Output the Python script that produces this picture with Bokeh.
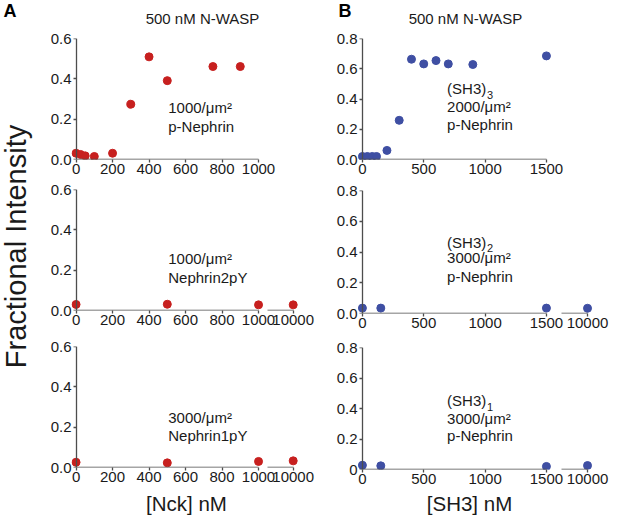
import math
from bokeh.plotting import figure
from bokeh.models import (Range1d, LinearAxis, FixedTicker, Label,
                          PrintfTickFormatter, ColumnDataSource)
from bokeh.layouts import row, column
from bokeh.embed import file_html
from bokeh.resources import INLINE

# ---------------- data ----------------
# Panel A: [Nck] nM vs fractional intensity
nck_top_x = [0, 25, 50, 100, 200, 300, 400, 500, 750, 900]
nck_top_y = [0.031, 0.025, 0.018, 0.015, 0.031, 0.274, 0.509, 0.391, 0.461, 0.461]
nck_mid_x = [0, 500, 1000, 10000]
nck_mid_y = [0.030, 0.031, 0.028, 0.028]
nck_bot_x = [0, 500, 1000, 10000]
nck_bot_y = [0.026, 0.023, 0.030, 0.033]

# Panel B: [SH3] nM vs fractional intensity
sh3_top_x = [0, 40, 80, 115, 200, 300, 400, 500, 600, 700, 900, 1500]
sh3_top_y = [0.02, 0.02, 0.02, 0.02, 0.060, 0.259, 0.663, 0.632, 0.654, 0.632, 0.628, 0.685]
sh3_mid_x = [0, 150, 1500, 10000]
sh3_mid_y = [0.035, 0.035, 0.035, 0.034]
sh3_bot_x = [0, 150, 1500, 10000]
sh3_bot_y = [0.028, 0.024, 0.020, 0.026]

# tick labels
nck_xticks = [0, 200, 400, 600, 800, 1000]
sh3_xticks = [0, 500, 1000, 1500]
break_tick = 10000
nck_yticks = [0, 0.2, 0.4, 0.6]
sh3_yticks = [0, 0.2, 0.4, 0.6, 0.8]

titles = ["500 nM N-WASP", "500 nM N-WASP"]
panel_letters = ["A", "B"]
y_label = "Fractional Intensity"
x_labels = ["[Nck] nM", "[SH3] nM"]

# ---------------- style ----------------
FONT = "Liberation Sans"
RED = "#c7201f"
BLUE = "#3f4fa3"
AXIS = "#4d4d4d"
TXT = "#1a1a1a"
TICK_FS = "15px"
NOTE_FS = "15px"


def to_disp(vals, main_max, stub_span, stub_disp):
    """Broken axis: values above main_max go onto the short stub segment."""
    lo_v, hi_v = stub_span
    lo_d, hi_d = stub_disp
    out = []
    for v in vals:
        if v <= main_max:
            out.append(v)
        else:
            out.append(lo_d + (v - lo_v) * (hi_d - lo_d) / (hi_v - lo_v))
    return out


def style_axis(ax, standoff, line=True, ticks=True, labels=True):
    ax.axis_line_color = AXIS if line else None
    ax.axis_line_width = 1.3
    ax.major_tick_line_color = AXIS if ticks else None
    ax.major_tick_line_width = 1.3
    ax.major_tick_out = 3 if ticks else 0
    ax.major_tick_in = 0
    ax.minor_tick_out = 0
    ax.minor_tick_in = 0
    ax.major_label_text_font = FONT
    ax.major_label_text_font_size = TICK_FS
    ax.major_label_text_color = TXT if labels else None
    ax.major_label_standoff = standoff


def line_axis(p, side, bounds, loc, tick_list=()):
    ax = LinearAxis(ticker=FixedTicker(ticks=list(tick_list)), bounds=bounds,
                    fixed_location=loc)
    style_axis(ax, 0, line=True, ticks=True, labels=False)
    p.add_layout(ax, side)


def panel(xs, ys, color, width, height, borders, xr, yr, xticks, yticks,
          main_max, stub=None, y_over=None, notes=()):
    bl, br, bt, bb = borders
    p = figure(width=width, height=height,
               x_range=Range1d(*xr), y_range=Range1d(*yr),
               output_backend="svg", toolbar_location=None,
               x_axis_type=None, y_axis_type=None,
               min_border_left=bl, min_border_right=br,
               min_border_top=bt, min_border_bottom=bb)
    p.outline_line_color = None

    # x axis: tick marks + labels (line drawn by the segment axes below)
    ticks = list(xticks)
    overrides = {}
    if stub is not None:
        span, disp = stub
        tick_d = to_disp([break_tick], main_max, span, disp)[0]
        ticks.append(tick_d)
        overrides[tick_d] = str(break_tick)
        dx = to_disp(xs, main_max, span, disp)
    else:
        dx = list(xs)
    xa = LinearAxis(ticker=FixedTicker(ticks=ticks),
                    major_label_overrides=overrides)
    style_axis(xa, 1, line=False, ticks=True, labels=True)
    p.add_layout(xa, "below")
    line_axis(p, "below", (0, main_max), yr[0])
    if stub is not None:
        line_axis(p, "below", stub[1], yr[0])

    # y axis: line and ticks at x = 0, labels at the frame edge
    line_axis(p, "left", "auto", 0, yticks)
    yl = LinearAxis(ticker=FixedTicker(ticks=yticks),
                    formatter=PrintfTickFormatter(format="%.1f"))
    if y_over:
        yl.major_label_overrides = y_over
    style_axis(yl, 0, line=False, ticks=False, labels=True)
    p.add_layout(yl, "left")

    src = ColumnDataSource(dict(x=dx, y=ys))
    p.scatter("x", "y", source=src, size=8, fill_color=color, line_color=color)

    for (tx, ty, txt, fs, yoff) in notes:
        p.add_layout(Label(x=tx, y=ty, text=txt, text_font=FONT,
                           text_font_size=fs, text_color=TXT,
                           text_align="left", text_baseline="middle",
                           y_offset=yoff))
    return p


def canvas(w, h, x0, y0):
    c = figure(width=w, height=h, x_range=Range1d(x0, x0 + w),
               y_range=Range1d(y0 + h, y0), output_backend="svg",
               toolbar_location=None, x_axis_type=None, y_axis_type=None,
               min_border=0)
    c.outline_line_color = None
    return c


# ---------------- left column (A) ----------------
L_W = 288
L_X = (-25, 1230)
L_STUB = ((9000, 10000), (1050, 1190))
L_Y = (0, 0.6)

a1 = panel(nck_top_x, nck_top_y, RED, L_W, 151, (35, 24, 8, 22), L_X, L_Y,
           nck_xticks, nck_yticks, 1000,
           notes=[(505, 0.258, "1000/μm²", NOTE_FS, 0),
                  (505, 0.164, "p-Nephrin", NOTE_FS, 0)])
a2 = panel(nck_mid_x, nck_mid_y, RED, L_W, 151, (35, 24, 8, 22), L_X, L_Y,
           nck_xticks, nck_yticks, 1000, stub=L_STUB,
           notes=[(505, 0.258, "1000/μm²", NOTE_FS, 0),
                  (505, 0.164, "Nephrin2pY", NOTE_FS, 0)])
a3 = panel(nck_bot_x, nck_bot_y, RED, L_W, 159, (35, 24, 14, 24), L_X, L_Y,
           nck_xticks, nck_yticks, 1000, stub=L_STUB,
           notes=[(505, 0.248, "3000/μm²", NOTE_FS, 0),
                  (505, 0.159, "Nephrin1pY", NOTE_FS, 0)])

# ---------------- right column (B) ----------------
R_W = 293
R_X = (-40, 1900)
R_STUB = ((9000, 10000), (1620, 1835))
R_Y = (0, 0.8)
SUB_X = 690 + 40 / 0.1227

b1 = panel(sh3_top_x, sh3_top_y, BLUE, R_W, 151, (33, 22, 8, 22), R_X, R_Y,
           sh3_xticks, sh3_yticks, 1500,
           notes=[(690, 0.469, "(SH3)", NOTE_FS, 0),
                  (SUB_X, 0.469, "3", "11px", -6),
                  (690, 0.350, "2000/μm²", NOTE_FS, 0),
                  (690, 0.231, "p-Nephrin", NOTE_FS, 0)])
b2 = panel(sh3_mid_x, sh3_mid_y, BLUE, R_W, 154, (33, 22, 9, 22), R_X, R_Y,
           sh3_xticks, sh3_yticks, 1500, stub=R_STUB,
           notes=[(690, 0.464, "(SH3)", NOTE_FS, 0),
                  (SUB_X, 0.464, "2", "11px", -6),
                  (690, 0.364, "3000/μm²", NOTE_FS, 0),
                  (690, 0.241, "p-Nephrin", NOTE_FS, 0)])
b3 = panel(sh3_bot_x, sh3_bot_y, BLUE, R_W, 156, (33, 22, 12, 22), R_X, R_Y,
           sh3_xticks, sh3_yticks, 1500, stub=R_STUB, y_over={0: "0"},
           notes=[(690, 0.452, "(SH3)", NOTE_FS, 0),
                  (SUB_X, 0.452, "1", "11px", -6),
                  (690, 0.334, "3000/μm²", NOTE_FS, 0),
                  (690, 0.223, "p-Nephrin", NOTE_FS, 0)])

# ---------------- header / side / footer text ----------------
header = canvas(617, 30, 0, 0)
for lx, letter in zip([3, 338], panel_letters):
    header.add_layout(Label(x=lx, y=10, text=letter, text_font=FONT,
                            text_font_size="18px", text_font_style="bold",
                            text_color="black", text_baseline="middle"))
for tx, t in zip([202, 465], titles):
    header.add_layout(Label(x=tx, y=18, text=t, text_font=FONT,
                            text_font_size="15px", text_color=TXT,
                            text_align="center", text_baseline="middle"))

side = canvas(36, 461, 0, 30)
side.add_layout(Label(x=15, y=246, text=y_label, angle=math.pi / 2,
                      text_font=FONT, text_font_size="29px", text_color=TXT,
                      text_align="center", text_baseline="middle"))

footer = canvas(617, 24, 0, 491)
for fx, t in zip([186, 469], x_labels):
    footer.add_layout(Label(x=fx, y=503, text=t, text_font=FONT,
                            text_font_size="20.5px", text_color=TXT,
                            text_align="center", text_baseline="middle"))

layout = column(header,
                row(side, column(a1, a2, a3), column(b1, b2, b3)),
                footer)

open("out.html", "w").write(file_html(layout, INLINE))
